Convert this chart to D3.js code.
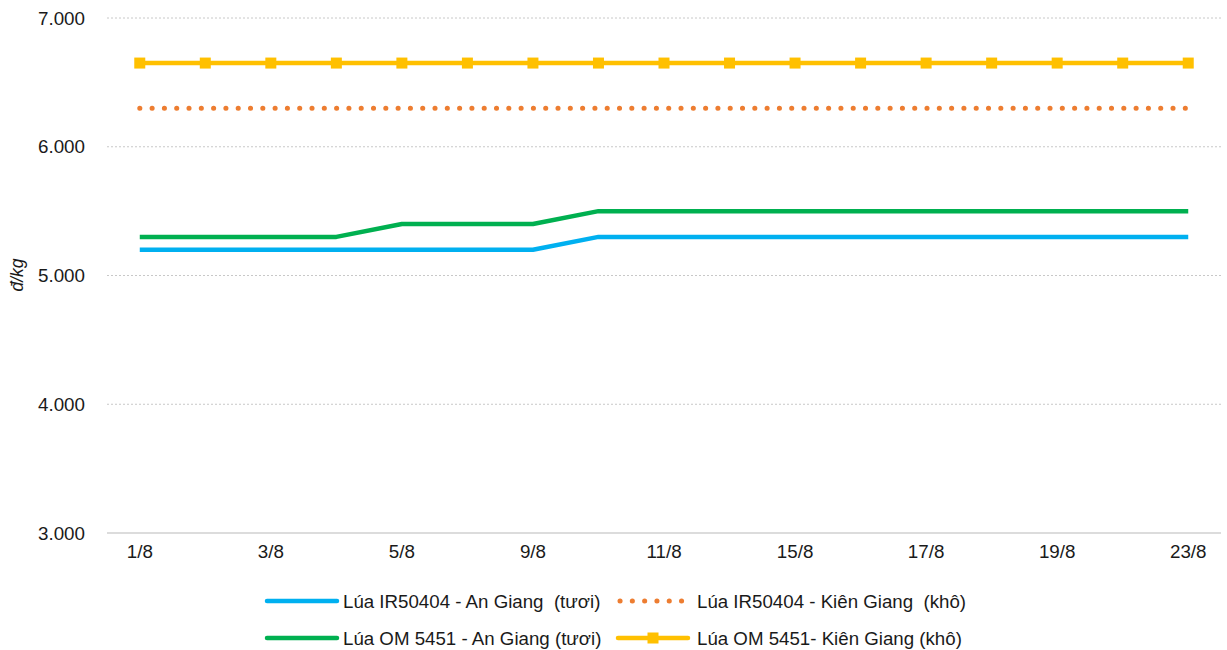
<!DOCTYPE html>
<html>
<head>
<meta charset="utf-8">
<script src="https://cdn.jsdelivr.net/npm/d3@7"></script>
<style>
  body { margin: 0; background: #fff; }
  svg { font-family: "Liberation Sans", Arial, sans-serif; }
  text { white-space: pre; }
</style>
</head>
<body>
<svg id="chart" width="1227" height="650"></svg>
<script>
// Data
const dates = ["1/8", "2/8", "3/8", "4/8", "5/8", "8/8", "9/8", "10/8", "11/8",
  "12/8", "15/8", "16/8", "17/8", "18/8", "19/8", "22/8", "23/8"];
const shownDates = ["1/8", "3/8", "5/8", "9/8", "11/8", "15/8", "17/8", "19/8", "23/8"];
const yTicks = [3000, 4000, 5000, 6000, 7000];

const ir50404AnGiang = [5200, 5200, 5200, 5200, 5200, 5200, 5200, 5300, 5300,
  5300, 5300, 5300, 5300, 5300, 5300, 5300, 5300];
const ir50404KienGiang = [6300, 6300, 6300, 6300, 6300, 6300, 6300, 6300, 6300,
  6300, 6300, 6300, 6300, 6300, 6300, 6300, 6300];
const om5451AnGiang = [5300, 5300, 5300, 5300, 5400, 5400, 5400, 5500, 5500,
  5500, 5500, 5500, 5500, 5500, 5500, 5500, 5500];
const om5451KienGiang = [6650, 6650, 6650, 6650, 6650, 6650, 6650, 6650, 6650,
  6650, 6650, 6650, 6650, 6650, 6650, 6650, 6650];

const series = [
  { name: "Lúa IR50404 - An Giang  (tươi)", values: ir50404AnGiang, color: "#00b0f0", dash: null, marker: false },
  { name: "Lúa IR50404 - Kiên Giang  (khô)", values: ir50404KienGiang, color: "#ed7d31", dash: "0.1 12.2", marker: false },
  { name: "Lúa OM 5451 - An Giang (tươi)", values: om5451AnGiang, color: "#00b050", dash: null, marker: false },
  { name: "Lúa OM 5451- Kiên Giang (khô)", values: om5451KienGiang, color: "#ffc000", dash: null, marker: true }
];

const margin = { top: 18, right: 6, bottom: 117, left: 107 };
const width = 1227 - margin.left - margin.right;
const height = 650 - margin.top - margin.bottom;
const font = "Liberation Sans, Arial, sans-serif";

const svg = d3.select("#chart");
const g = svg.append("g").attr("transform", `translate(${margin.left},${margin.top})`);

const x = d3.scaleBand().domain(dates).range([0, width]);
const y = d3.scaleLinear().domain([3000, 7000]).range([height, 0]);
const cx = (d) => x(d) + x.bandwidth() / 2;

// Gridlines
g.selectAll(".grid")
  .data(yTicks.filter((t) => t > 3000))
  .enter()
  .append("line")
  .attr("x1", 0)
  .attr("x2", width)
  .attr("y1", (d) => y(d))
  .attr("y2", (d) => y(d))
  .attr("stroke", "#c8c8c8")
  .attr("stroke-width", 1)
  .attr("stroke-dasharray", "2 2");

// Baseline
g.append("line")
  .attr("x1", 0)
  .attr("x2", width)
  .attr("y1", height)
  .attr("y2", height)
  .attr("stroke", "#d0d0d0")
  .attr("stroke-width", 1.5);

// Y axis
const yAxis = g.append("g")
  .call(d3.axisLeft(y).tickValues(yTicks).tickSize(0).tickPadding(22)
    .tickFormat((d) => d3.format(",")(d).replace(/,/g, ".")));
yAxis.select(".domain").remove();
yAxis.selectAll("text").attr("font-size", 18.8).attr("fill", "#1a1a1a").attr("font-family", font);

// X axis
const xAxis = g.append("g")
  .attr("transform", `translate(0,${height})`)
  .call(d3.axisBottom(x).tickSize(0).tickPadding(12)
    .tickFormat((d) => (shownDates.includes(d) ? d : "")));
xAxis.select(".domain").remove();
xAxis.selectAll("text").attr("font-size", 18.8).attr("fill", "#1a1a1a").attr("font-family", font);

// Y axis label
svg.append("text")
  .attr("transform", "translate(23,275) rotate(-90)")
  .attr("text-anchor", "middle")
  .attr("font-size", 17.5)
  .attr("font-style", "italic")
  .attr("fill", "#1a1a1a")
  .text("đ/kg");

// Lines
const line = d3.line()
  .x((d, i) => cx(dates[i]))
  .y((d) => y(d));

series.forEach((s) => {
  const path = g.append("path")
    .datum(s.values)
    .attr("fill", "none")
    .attr("stroke", s.color)
    .attr("stroke-width", s.dash ? 5 : 4.5)
    .attr("stroke-linejoin", "round")
    .attr("d", line);
  if (s.dash) path.attr("stroke-dasharray", s.dash).attr("stroke-linecap", "round");
  if (s.marker) {
    g.selectAll(null)
      .data(s.values)
      .enter()
      .append("rect")
      .attr("x", (d, i) => cx(dates[i]) - 5.5)
      .attr("y", (d) => y(d) - 5.5)
      .attr("width", 11)
      .attr("height", 11)
      .attr("fill", s.color);
  }
});

// Legend
const legendPos = [
  { x: 267, y: 601 },
  { x: 618, y: 601 },
  { x: 267, y: 638 },
  { x: 618, y: 638 }
];
series.forEach((s, i) => {
  const p = legendPos[i];
  const lg = svg.append("g").attr("transform", `translate(${p.x},${p.y})`);
  const l = lg.append("line")
    .attr("x1", s.dash ? 2 : 0)
    .attr("x2", s.dash ? 68 : 70)
    .attr("y1", 0)
    .attr("y2", 0)
    .attr("stroke", s.color)
    .attr("stroke-width", s.dash ? 5 : 4.5)
    .attr("stroke-linecap", "round");
  if (s.dash) l.attr("stroke-dasharray", s.dash);
  if (s.marker) {
    lg.append("rect").attr("x", 29.5).attr("y", -5.5).attr("width", 11).attr("height", 11).attr("fill", s.color);
  }
  lg.append("text")
    .attr("x", i % 2 === 0 ? 76 : 79)
    .attr("y", 6.5)
    .attr("font-size", 18.7)
    .attr("fill", "#1a1a1a")
    .attr("font-family", font)
    .text(s.name);
});
</script>
</body>
</html>
